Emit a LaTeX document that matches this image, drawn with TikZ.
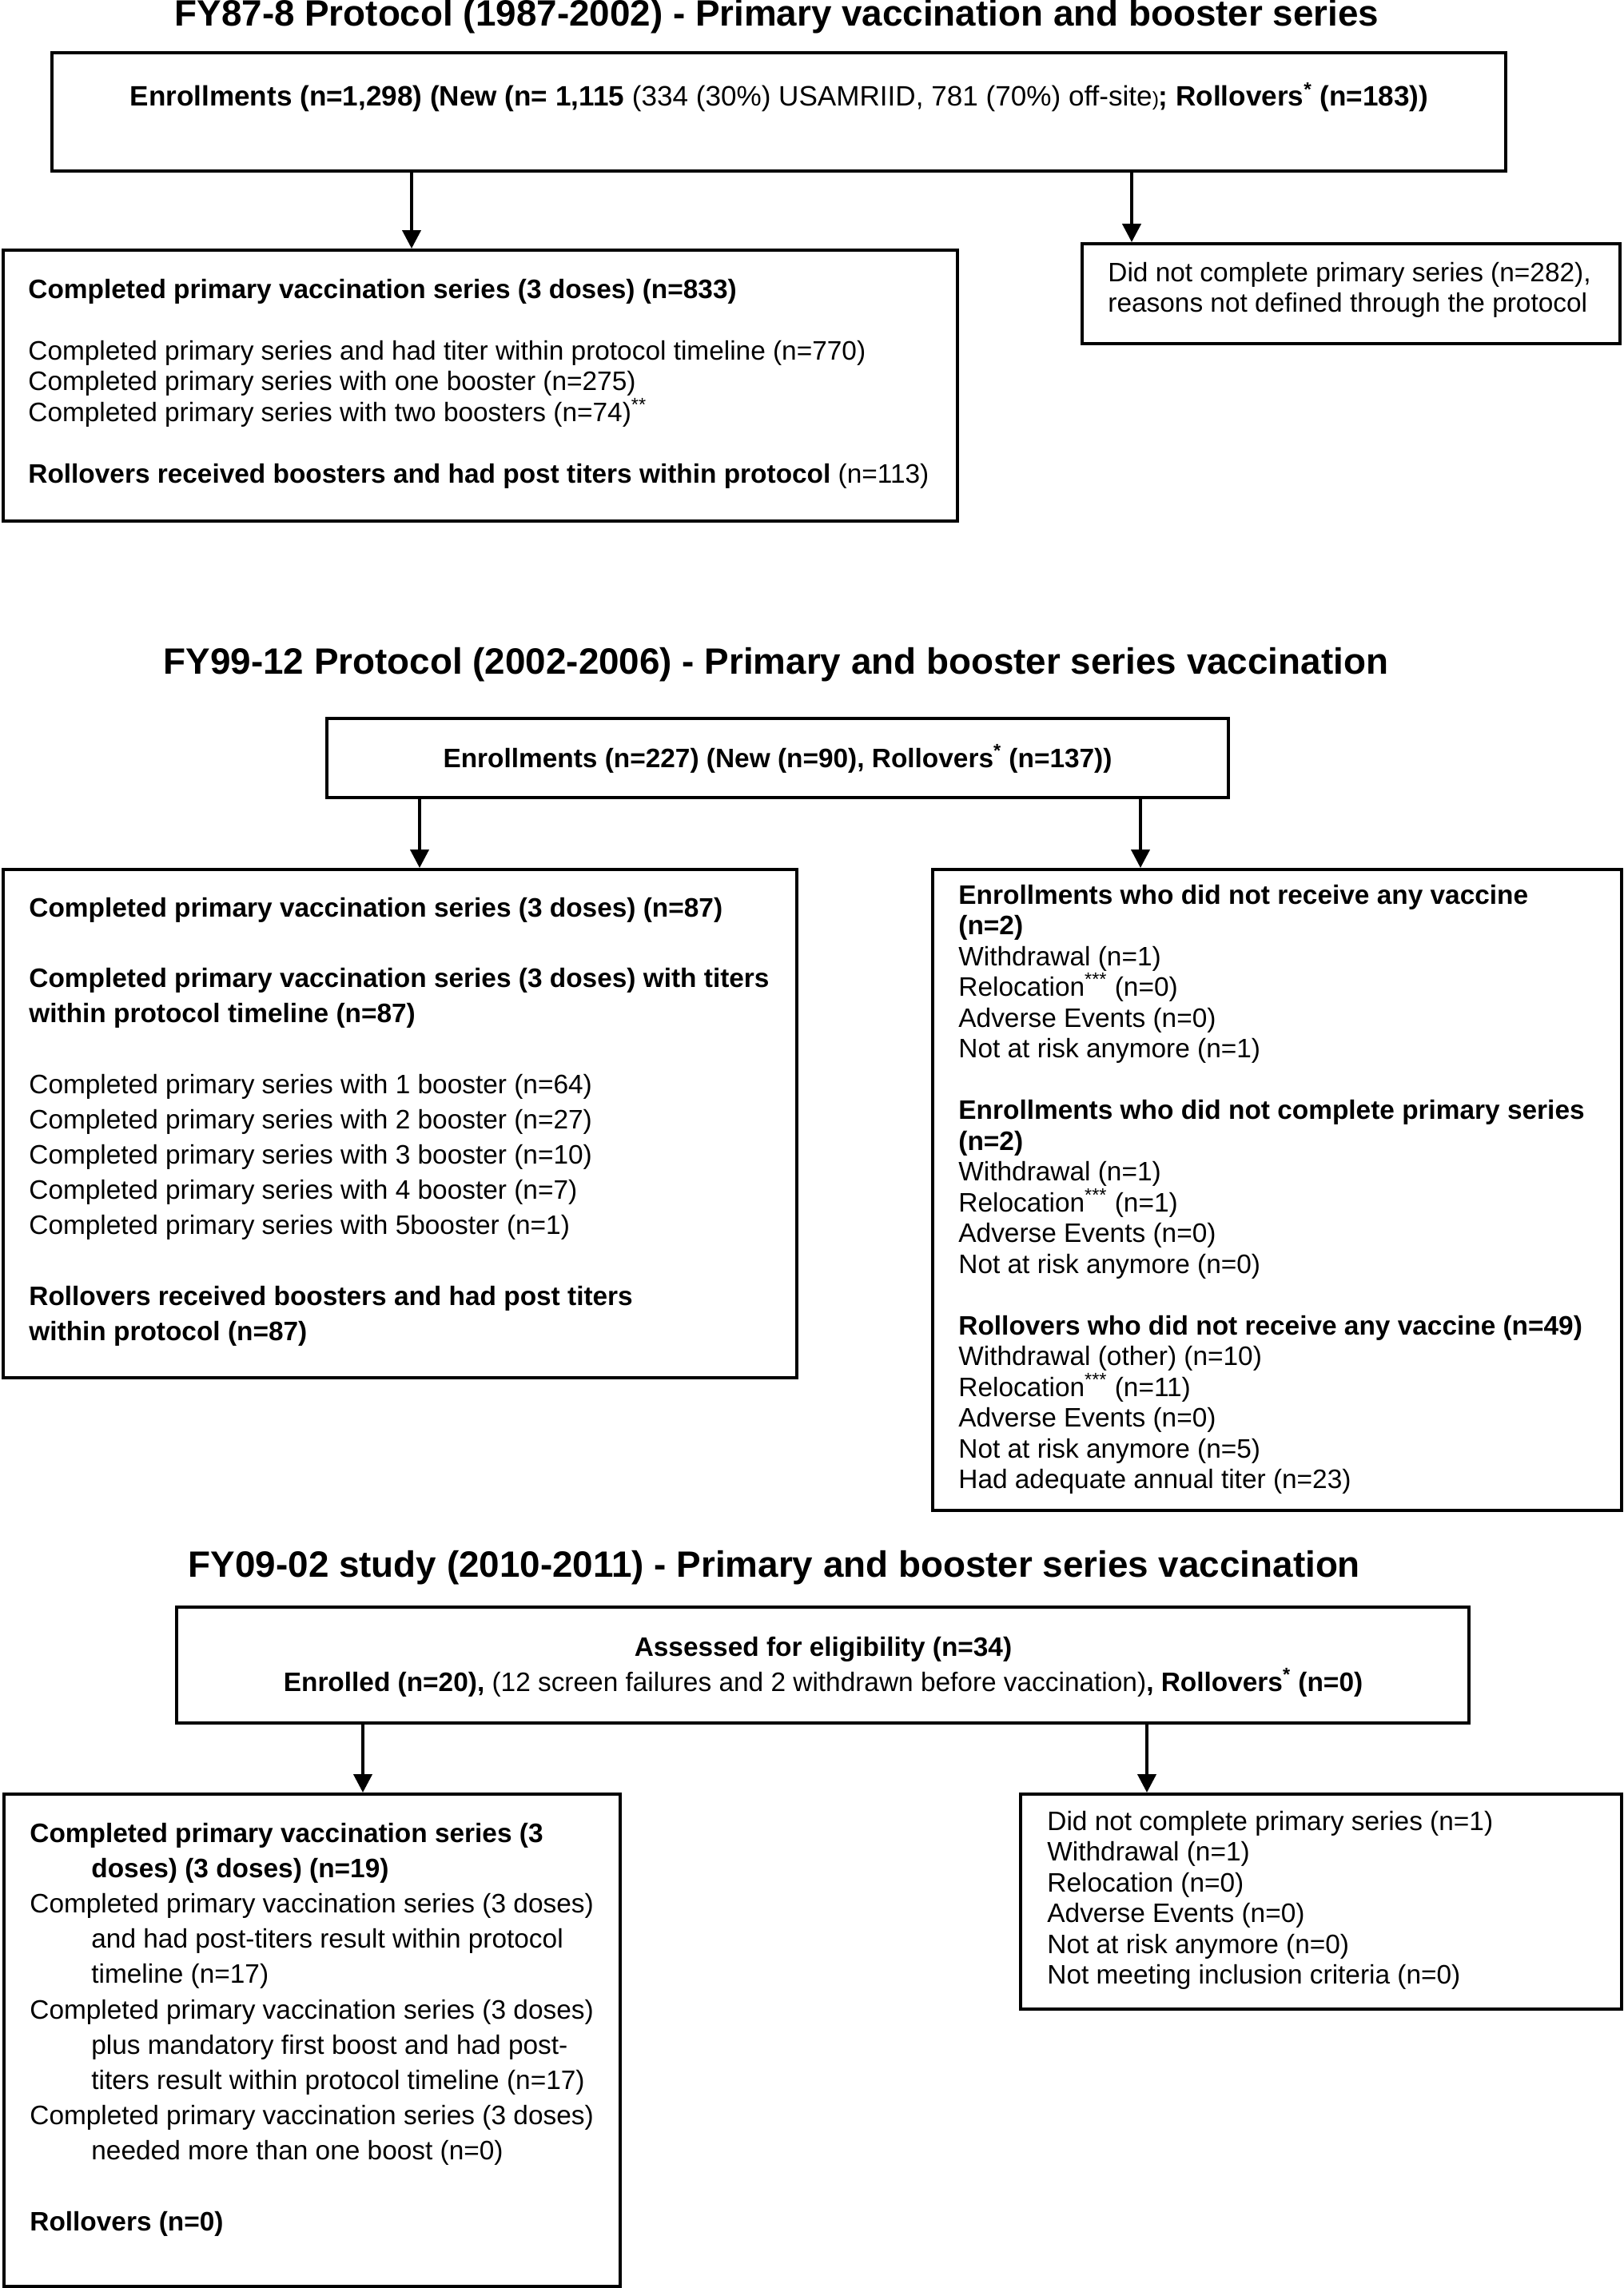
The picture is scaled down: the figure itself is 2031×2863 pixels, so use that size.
\documentclass[tikz,border=0pt]{standalone}
\usepackage{fontspec}
\setmainfont{Liberation Sans}
\usetikzlibrary{arrows.meta,fit}
\newcommand{\bodyfont}{\fontsize{16.7pt}{19.25pt}\selectfont}
\newcommand{\bodyfontw}{\fontsize{16.7pt}{22.1pt}\selectfont}
\tikzset{
  box/.style={draw, line width=2pt, inner sep=0pt},
  arr/.style={line width=2pt, -{Triangle[length=11.5pt,width=11.5pt]}},
  txt/.style={inner sep=0pt, anchor=base west},
  ctxt/.style={inner sep=0pt, anchor=base},
  ttl/.style={inner sep=0pt, anchor=base, font=\fontsize{22.9pt}{27pt}\selectfont\bfseries},
}
\begin{document}
\begin{tikzpicture}[x=0.5pt,y=-0.5pt]
\fill[white] (0,0) rectangle (2031,2863);
\useasboundingbox (0,0) rectangle (2031,2863);

% ---------- Section 1 ----------
\node[ttl] (title1) at (972,33) {FY87-8 Protocol (1987-2002) - Primary vaccination and booster series};
\node[box, fit={(65,66) (1884,214)}] (b1) {};
\node[ctxt] (t1) at (975,133) {\fontsize{17.55pt}{20pt}\selectfont\textbf{Enrollments (n=1,298) (New (n= 1,115} (334 (30\%) USAMRIID, 781 (70\%) off-site{\fontsize{12.3pt}{12pt}\selectfont )}\textbf{; Rollovers\textsuperscript{*} (n=183))}};
\node[box, fit={(4,313) (1198,652)}] (b2) {};
\node[txt] (t2) at (35,373) {\parbox[t]{590pt}{\raggedright\bodyfont
\textbf{Completed primary vaccination series (3 doses) (n=833)}\\[19.25pt]
Completed primary series and had titer within protocol timeline (n=770)\\
Completed primary series with one booster (n=275)\\
Completed primary series with two boosters (n=74)\textsuperscript{**}\\[19.25pt]
\textbf{Rollovers received boosters and had post titers within protocol} (n=113)}};
\node[box, fit={(1354,305) (2027,430)}] (b3) {};
\node[txt] (t3) at (1386,352) {\parbox[t]{330pt}{\raggedright\bodyfont
Did not complete primary series (n=282),\\
reasons not defined through the protocol}};
\coordinate (x1a) at (515,0);
\coordinate (x1b) at (1416,0);
\draw[arr] (x1a |- b1.south) -- (x1a |- b2.north);
\draw[arr] (x1b |- b1.south) -- (x1b |- b3.north);

% ---------- Section 2 ----------
\node[ttl] (title2) at (971,843) {FY99-12 Protocol (2002-2006) - Primary and booster series vaccination};
\node[box, fit={(409,899) (1537,998)}] (b4) {};
\node[ctxt] (t4) at (973,960) {\bodyfont\textbf{Enrollments (n=227) (New (n=90), Rollovers\textsuperscript{*} (n=137))}};
\node[box, fit={(4,1088) (997,1724)}] (b5) {};
\node[txt] (t5) at (36,1147) {\parbox[t]{480pt}{\raggedright\bodyfontw
\textbf{Completed primary vaccination series (3 doses) (n=87)}\\[22.1pt]
\textbf{Completed primary vaccination series (3 doses) with titers}\\
\textbf{within protocol timeline (n=87)}\\[22.1pt]
Completed primary series with 1 booster (n=64)\\
Completed primary series with 2 booster (n=27)\\
Completed primary series with 3 booster (n=10)\\
Completed primary series with 4 booster (n=7)\\
Completed primary series with 5booster (n=1)\\[22.1pt]
\textbf{Rollovers received boosters and had post titers}\\
\textbf{within protocol (n=87)}}};
\node[box, fit={(1167,1088) (2029,1890)}] (b6) {};
\node[txt] (t6) at (1199,1131) {\parbox[t]{420pt}{\raggedright\bodyfont
\textbf{Enrollments who did not receive any vaccine}\\
\textbf{(n=2)}\\
Withdrawal (n=1)\\
Relocation\textsuperscript{***} (n=0)\\
Adverse Events (n=0)\\
Not at risk anymore (n=1)\\[19.25pt]
\textbf{Enrollments who did not complete primary series}\\
\textbf{(n=2)}\\
Withdrawal (n=1)\\
Relocation\textsuperscript{***} (n=1)\\
Adverse Events (n=0)\\
Not at risk anymore (n=0)\\[19.25pt]
\textbf{Rollovers who did not receive any vaccine (n=49)}\\
Withdrawal (other) (n=10)\\
Relocation\textsuperscript{***} (n=11)\\
Adverse Events (n=0)\\
Not at risk anymore (n=5)\\
Had adequate annual titer (n=23)}};
\coordinate (x2a) at (525,0);
\coordinate (x2b) at (1427,0);
\draw[arr] (x2a |- b4.south) -- (x2a |- b5.north);
\draw[arr] (x2b |- b4.south) -- (x2b |- b6.north);

% ---------- Section 3 ----------
\node[ttl] (title3) at (969,1973) {FY09-02 study (2010-2011) - Primary and booster series vaccination};
\node[box, fit={(221,2011) (1838,2156)}] (b7) {};
\node[ctxt] (t7) at (1030,2072) {\parbox[t]{780pt}{\centering\bodyfontw
\textbf{Assessed for eligibility (n=34)}\\
\textbf{Enrolled (n=20),} (12 screen failures and 2 withdrawn before vaccination)\textbf{, Rollovers\textsuperscript{*} (n=0)}}};
\node[box, fit={(5,2245) (776,2861)}] (b8) {};
\node[txt] (t8) at (37,2305) {\parbox[t]{370pt}{\raggedright\bodyfontw
\textbf{Completed primary vaccination series (3}\\
\hspace*{38.5pt}\textbf{doses) (3 doses) (n=19)}\\
Completed primary vaccination series (3 doses)\\
\hspace*{38.5pt}and had post-titers result within protocol\\
\hspace*{38.5pt}timeline (n=17)\\
Completed primary vaccination series (3 doses)\\
\hspace*{38.5pt}plus mandatory first boost and had post-\\
\hspace*{38.5pt}titers result within protocol timeline (n=17)\\
Completed primary vaccination series (3 doses)\\
\hspace*{38.5pt}needed more than one boost (n=0)\\[22.1pt]
\textbf{Rollovers (n=0)}}};
\node[box, fit={(1277,2245) (2029,2514)}] (b9) {};
\node[txt] (t9) at (1310,2290) {\parbox[t]{360pt}{\raggedright\bodyfont
Did not complete primary series (n=1)\\
Withdrawal (n=1)\\
Relocation (n=0)\\
Adverse Events (n=0)\\
Not at risk anymore (n=0)\\
Not meeting inclusion criteria (n=0)}};
\coordinate (x3a) at (454,0);
\coordinate (x3b) at (1435,0);
\draw[arr] (x3a |- b7.south) -- (x3a |- b8.north);
\draw[arr] (x3b |- b7.south) -- (x3b |- b9.north);
\end{tikzpicture}
\end{document}
